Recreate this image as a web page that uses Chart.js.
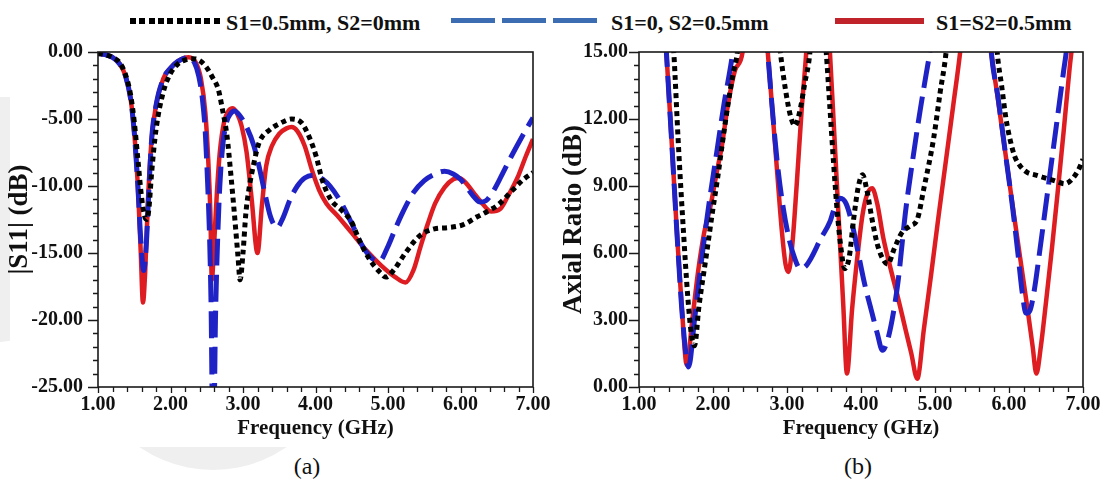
<!DOCTYPE html>
<html>
<head>
<meta charset="utf-8">
<script src="https://cdn.jsdelivr.net/npm/chart.js@4.4.0/dist/chart.umd.min.js"></script>
<style>
    body { margin: 0; background: #fff; width: 1109px; height: 488px; position: relative; overflow: hidden;
           font-family: "Liberation Serif", "Times New Roman", serif; color: #111; }
    .mark { position: absolute; background: #efefef; }
    .cover { position: absolute; background: #fff; }
    .box { position: absolute; }
    .leg-text { position: absolute; top: 12px; font-size: 22px; line-height: 22px; font-weight: bold; white-space: nowrap; }
    .leg-line { position: absolute; }
    .cap { position: absolute; top: 452px; font-size: 24px; line-height: 28px; width: 60px; text-align: center; }
</style>
</head>
<body>
<!-- faint grey watermark shapes behind the left panel -->
<div class="mark" style="left:0;top:97px;width:40px;height:245px;border-radius:0 0 40px 0;"></div>
<div class="mark" style="left:83px;top:210px;width:260px;height:260px;border-radius:50%;"></div>
<div class="cover" style="left:10px;top:0;width:545px;height:447px;"></div>

<div class="leg-line" style="left:130px;top:18px;width:93px;height:6px;background:repeating-linear-gradient(90deg,#000 0 6px,transparent 6px 9.3px);"></div>
<div class="leg-text" style="left:226px;">S1=0.5mm, S2=0mm</div>
<div class="leg-line" style="left:451px;top:18px;width:146px;height:5px;background:repeating-linear-gradient(90deg,#3c6db3 0 44px,transparent 44px 51px);"></div>
<div class="leg-text" style="left:611px;">S1=0, S2=0.5mm</div>
<div class="leg-line" style="left:835px;top:18px;width:89px;height:6px;background:#c1232b;"></div>
<div class="leg-text" style="left:936px;">S1=S2=0.5mm</div>

<div class="box" style="left:0;top:20px;"><canvas id="s11-chart" width="560" height="430"></canvas></div>
<div class="box" style="left:555px;top:20px;"><canvas id="ar-chart" width="554" height="430"></canvas></div>

<div class="cap" style="left:277px;">(a)</div>
<div class="cap" style="left:828px;">(b)</div>

<script>
// Tick labels (major ticks), minor ticks are 4 per interval
const freqTicks = [1, 2, 3, 4, 5, 6, 7];
const s11Ticks = [-25, -20, -15, -10, -5, 0];
const arTicks = [0, 3, 6, 9, 12, 15];

// (a) |S11| curves
const blackFreqA = [1.0, 1.1, 1.2, 1.3, 1.38, 1.45, 1.5, 1.55, 1.6, 1.64, 1.67, 1.7, 1.74, 1.8, 1.9, 2.0, 2.1, 2.2, 2.29, 2.39, 2.49, 2.58, 2.66, 2.71, 2.78, 2.83, 2.88, 2.93, 2.96, 3.0, 3.04, 3.08, 3.15, 3.22, 3.37, 3.52, 3.67, 3.81, 3.91, 4.01, 4.09, 4.21, 4.36, 4.5, 4.6, 4.75, 4.9, 4.97, 5.09, 5.24, 5.44, 5.64, 5.83, 6.03, 6.23, 6.37, 6.52, 6.72, 6.87, 7.0];
const blackS11 = [-0.1, -0.2, -0.4, -0.8, -1.7, -3.2, -5.2, -8, -10.8, -12.2, -12.5, -11.8, -9, -5.8, -3, -1.6, -0.9, -0.6, -0.5, -0.6, -1.1, -1.9, -2.8, -4.1, -6.3, -9, -12, -15.2, -17, -15, -12, -10.3, -8.3, -6.8, -5.8, -5.3, -5, -5.3, -6.3, -7.8, -9.5, -11, -11.8, -12.7, -14, -15.5, -16.5, -16.8, -16.2, -15, -13.7, -13.2, -13.1, -12.9, -12.3, -11.9, -11.4, -10.3, -9.5, -9];

const blueFreqA = [1.0, 1.1, 1.2, 1.3, 1.38, 1.45, 1.5, 1.55, 1.59, 1.63, 1.67, 1.7, 1.74, 1.8, 1.9, 2.0, 2.1, 2.25, 2.33, 2.39, 2.44, 2.48, 2.51, 2.54, 2.56, 2.58, 2.6, 2.62, 2.65, 2.68, 2.72, 2.77, 2.83, 2.88, 2.95, 3.05, 3.15, 3.22, 3.3, 3.38, 3.47, 3.55, 3.65, 3.75, 3.85, 4.0, 4.1, 4.2, 4.35, 4.5, 4.65, 4.78, 4.88, 5.0, 5.1, 5.2, 5.35, 5.5, 5.65, 5.78, 5.9, 6.0, 6.1, 6.2, 6.27, 6.35, 6.45, 6.55, 6.7, 6.85, 7.0];
const blueS11 = [-0.1, -0.2, -0.4, -0.9, -1.8, -3.5, -6, -10, -14, -16.3, -14, -10.5, -6.5, -4, -2, -1.2, -0.7, -0.4, -0.8, -1.8, -3.5, -6, -9.5, -14, -19, -27, -27, -20, -14, -10, -7, -5.3, -4.6, -4.4, -4.7, -5.6, -7, -8.5, -10.5, -12.3, -13.1, -12.4, -11, -10, -9.4, -9.2, -9.5, -10, -11.2, -12.8, -14.5, -15.4, -15.6, -14.5, -13.2, -12, -10.5, -9.6, -9.1, -8.9, -9.1, -9.5, -10.2, -10.9, -11.2, -11.1, -10.4, -9.4, -7.8, -6.3, -4.9];

const redFreqA = [1.0, 1.1, 1.2, 1.3, 1.38, 1.45, 1.5, 1.55, 1.59, 1.62, 1.65, 1.69, 1.74, 1.8, 1.9, 2.0, 2.1, 2.25, 2.35, 2.42, 2.48, 2.52, 2.55, 2.57, 2.6, 2.64, 2.68, 2.74, 2.8, 2.86, 2.92, 2.98, 3.05, 3.12, 3.2, 3.26, 3.32, 3.4, 3.5, 3.6, 3.67, 3.75, 3.85, 3.95, 4.05, 4.15, 4.3, 4.5, 4.7, 4.9, 5.1, 5.24, 5.35, 5.45, 5.55, 5.65, 5.78, 5.9, 5.98, 6.08, 6.18, 6.3, 6.42, 6.55, 6.65, 6.8, 6.9, 7.0];
const redS11 = [-0.1, -0.2, -0.4, -0.9, -1.8, -3.5, -6, -10, -15, -18.7, -16.5, -11, -6.5, -4, -2, -1.2, -0.7, -0.4, -0.8, -2, -4.5, -8, -12, -17, -14.5, -10.5, -7.5, -5.2, -4.4, -4.2, -4.6, -5.5, -7.5, -11, -15, -11.5, -8.5, -7, -6.1, -5.7, -5.6, -5.9, -7, -8.8, -10.3, -11.3, -12.2, -13.5, -14.8, -15.9, -16.8, -17.2, -16.3, -14.5, -12.8, -11.3, -10.1, -9.5, -9.4, -9.8, -10.5, -11.3, -11.9, -11.7, -10.8, -9.2, -7.8, -6.5];

// (b) axial ratio curves (values above 15 dB run off the top of the plot)
const blackFreqB = [1.0, 1.4, 1.47, 1.53, 1.6, 1.66, 1.71, 1.75, 1.81, 1.91, 2.0, 2.06, 2.13, 2.2, 2.27, 2.33, 2.38, 2.6, 2.85, 2.91, 2.98, 3.05, 3.11, 3.17, 3.24, 3.31, 3.35, 3.42, 3.48, 3.53, 3.58, 3.63, 3.68, 3.73, 3.78, 3.84, 3.9, 3.96, 4.02, 4.08, 4.15, 4.22, 4.3, 4.36, 4.45, 4.55, 4.66, 4.76, 4.85, 4.98, 5.07, 5.15, 5.2, 5.5, 5.8, 5.84, 5.9, 5.96, 6.02, 6.08, 6.15, 6.25, 6.35, 6.45, 6.55, 6.65, 6.75, 6.85, 6.95, 7.0];
const blackAR = [30, 18, 15, 11, 7, 4, 2.3, 1.85, 3.6, 5.9, 8, 9.3, 11, 12.6, 14, 15, 17, 22, 17, 15, 13.3, 12.1, 11.7, 12.3, 13.6, 15, 17, 19, 17, 15, 12.5, 10, 7.8, 6.2, 5.3, 5.8, 7.5, 8.9, 9.5, 8.8, 7.5, 6.4, 5.7, 5.5, 6.2, 6.9, 7.2, 7.5, 8.9, 11.1, 13.2, 15, 17, 22, 17, 15, 13.5, 12, 11, 10.3, 9.9, 9.6, 9.5, 9.4, 9.3, 9.2, 9.1, 9.3, 9.8, 10.2];

const blueFreqB = [1.0, 1.3, 1.37, 1.45, 1.52, 1.59, 1.67, 1.75, 1.85, 1.95, 2.05, 2.15, 2.25, 2.3, 2.35, 2.55, 2.7, 2.74, 2.8, 2.87, 2.95, 3.03, 3.1, 3.18, 3.25, 3.33, 3.45, 3.58, 3.65, 3.72, 3.8, 3.88, 3.95, 4.05, 4.15, 4.22, 4.29, 4.35, 4.42, 4.5, 4.6, 4.7, 4.8, 4.88, 4.93, 5.0, 5.4, 5.72, 5.76, 5.85, 5.95, 6.05, 6.12, 6.18, 6.23, 6.28, 6.34, 6.42, 6.5, 6.58, 6.66, 6.74, 6.78, 6.82, 7.0];
const blueAR = [30, 19, 15, 10.5, 6.5, 3, 0.9, 3, 5.8, 8.3, 10.5, 12.7, 14.6, 15.8, 18, 22, 17, 15, 12.5, 10, 8, 6.6, 5.8, 5.3, 5.4, 5.8, 6.6, 7.4, 8.1, 8.45, 8.2, 7.3, 6.2, 4.6, 3.3, 2.4, 1.64, 2.0, 3.0, 4.7, 7.8, 10.2, 12.4, 14, 15, 17, 22, 17, 15, 13, 10.5, 8, 6, 4.2, 3.3, 3.4, 4.3, 6.2, 8.2, 10.2, 12.2, 14.2, 15.2, 17, 25];

const redFreqB = [1.0, 1.3, 1.37, 1.45, 1.52, 1.58, 1.645, 1.72, 1.8, 1.88, 1.96, 2.05, 2.12, 2.2, 2.3, 2.4, 2.45, 2.55, 2.68, 2.74, 2.8, 2.87, 2.93, 2.98, 3.02, 3.07, 3.13, 3.2, 3.26, 3.3, 3.43, 3.55, 3.58, 3.63, 3.68, 3.72, 3.76, 3.81, 3.88, 3.95, 4.02, 4.08, 4.15, 4.22, 4.3, 4.4, 4.5, 4.6, 4.68, 4.76, 4.85, 4.95, 5.05, 5.15, 5.25, 5.34, 5.4, 5.55, 5.7, 5.76, 5.85, 5.95, 6.05, 6.15, 6.25, 6.32, 6.37, 6.43, 6.5, 6.58, 6.66, 6.74, 6.82, 6.86, 6.9, 7.0];
const redAR = [30, 19, 15, 10.5, 6.5, 3.5, 1.0, 3, 5.2, 6.9, 8, 9.6, 10.8, 12.6, 14.2, 15, 17, 22, 18, 15, 12.5, 9.5, 7, 5.5, 5.15, 6.3, 9, 12.5, 15, 17.5, 22, 17, 15, 11.9, 8.7, 6.2, 3.7, 0.6, 3.5, 5.8, 7.7, 8.6, 8.9, 8.2, 6.7, 5.3, 4.0, 2.6, 1.5, 0.37, 2.6, 5.1, 7.7, 10.2, 12.7, 15, 17, 22, 17, 15, 12.9, 10.5, 8.1, 5.8, 3.5, 1.8, 0.6, 1.8, 3.8, 6.2, 8.8, 11.5, 14.3, 15.5, 17, 20];

const serif = '"Liberation Serif", "Times New Roman", serif';

function toPoints(xs, ys) {
    return xs.map((x, i) => ({ x: x, y: ys[i] }));
}

// Major ticks plus 4 minor ticks in between
function withMinor(majors) {
    const out = [];
    for (let i = 0; i < majors.length; i++) {
        out.push({ value: majors[i], major: true });
        if (i < majors.length - 1) {
            const step = (majors[i + 1] - majors[i]) / 5;
            for (let k = 1; k < 5; k++) out.push({ value: +(majors[i] + k * step).toFixed(4), major: false });
        }
    }
    return out;
}

// Box frame and outward tick marks
const frameTicks = {
    id: 'frameTicks',
    afterDatasetsDraw(chart) {
        const { ctx, chartArea: a, scales: { x, y } } = chart;
        ctx.save();
        ctx.strokeStyle = '#1a1a1a';
        ctx.lineWidth = 1.6;
        ctx.strokeRect(a.left, a.top, a.right - a.left, a.bottom - a.top);
        ctx.lineWidth = 1.3;
        ctx.beginPath();
        x.ticks.forEach(t => {
            const px = Math.round(x.getPixelForValue(t.value)) + 0.5;
            const len = t.major ? 6 : 5;
            ctx.moveTo(px, a.bottom);
            ctx.lineTo(px, a.bottom + len);
        });
        y.ticks.forEach(t => {
            const py = Math.round(y.getPixelForValue(t.value)) + 0.5;
            const len = t.major ? 10 : 5;
            ctx.moveTo(a.left, py);
            ctx.lineTo(a.left - len, py);
        });
        ctx.stroke();
        ctx.restore();
    }
};

function makeChart(id, series, cfg) {
    const ctx = document.getElementById(id).getContext('2d');
    const styles = [
        { label: 'S1=0.5mm, S2=0mm', color: '#000000', dash: [5, 4], width: 5 },
        { label: 'S1=0, S2=0.5mm', color: '#1f22c4', dash: [27, 9], width: 5 },
        { label: 'S1=S2=0.5mm', color: '#dd1d22', dash: [], width: 4.5 }
    ];
    return new Chart(ctx, {
        type: 'line',
        data: {
            datasets: series.map((pts, i) => ({
                label: styles[i].label,
                data: pts,
                borderColor: styles[i].color,
                borderDash: styles[i].dash,
                borderWidth: styles[i].width,
                borderCapStyle: 'butt',
                pointRadius: 0,
                fill: false,
                cubicInterpolationMode: 'monotone',
                clip: 0,
                order: i
            }))
        },
        plugins: [frameTicks],
        options: {
            responsive: false,
            animation: false,
            layout: { padding: { left: 0, top: 32, right: cfg.padRight, bottom: 5 } },
            plugins: { legend: { display: false }, tooltip: { enabled: false } },
            scales: {
                x: {
                    type: 'linear',
                    min: 1,
                    max: 7,
                    afterBuildTicks: s => { s.ticks = withMinor(freqTicks); },
                    afterFit: s => { s.height = 58; },
                    grid: { display: false, drawTicks: false },
                    border: { display: false },
                    ticks: {
                        autoSkip: false,
                        maxRotation: 0,
                        padding: 6,
                        color: '#111',
                        font: { family: serif, size: 20, weight: 'bold' },
                        callback: v => freqTicks.includes(v) ? v.toFixed(2) : ''
                    },
                    title: {
                        display: true,
                        text: 'Frequency (GHz)',
                        color: '#111',
                        padding: { top: 0, bottom: 4 },
                        font: { family: serif, size: 21, weight: 'bold' }
                    }
                },
                y: {
                    type: 'linear',
                    min: cfg.yTicks[0],
                    max: cfg.yTicks[cfg.yTicks.length - 1],
                    afterBuildTicks: s => { s.ticks = withMinor(cfg.yTicks); },
                    afterFit: s => { s.width = cfg.yWidth; },
                    grid: { display: false, drawTicks: false },
                    border: { display: false },
                    ticks: {
                        autoSkip: false,
                        padding: cfg.yPad,
                        color: '#111',
                        font: { family: serif, size: 20, weight: 'bold' },
                        callback: v => cfg.yTicks.includes(v) ? v.toFixed(2) : ''
                    },
                    title: {
                        display: true,
                        text: cfg.yTitle,
                        color: '#111',
                        padding: { top: cfg.titlePad, bottom: 0 },
                        font: { family: serif, size: 27, weight: 'bold' }
                    }
                }
            }
        }
    });
}

makeChart('s11-chart', [
    toPoints(blackFreqA, blackS11),
    toPoints(blueFreqA, blueS11),
    toPoints(redFreqA, redS11)
], { yTicks: s11Ticks, yTitle: '|S11| (dB)', yWidth: 98, yPad: 15, titlePad: 4, padRight: 27 });

makeChart('ar-chart', [
    toPoints(blackFreqB, blackAR),
    toPoints(blueFreqB, blueAR),
    toPoints(redFreqB, redAR)
], { yTicks: arTicks, yTitle: 'Axial Ratio (dB)', yWidth: 84, yPad: 11, titlePad: 3, padRight: 26 });
</script>
</body>
</html>
